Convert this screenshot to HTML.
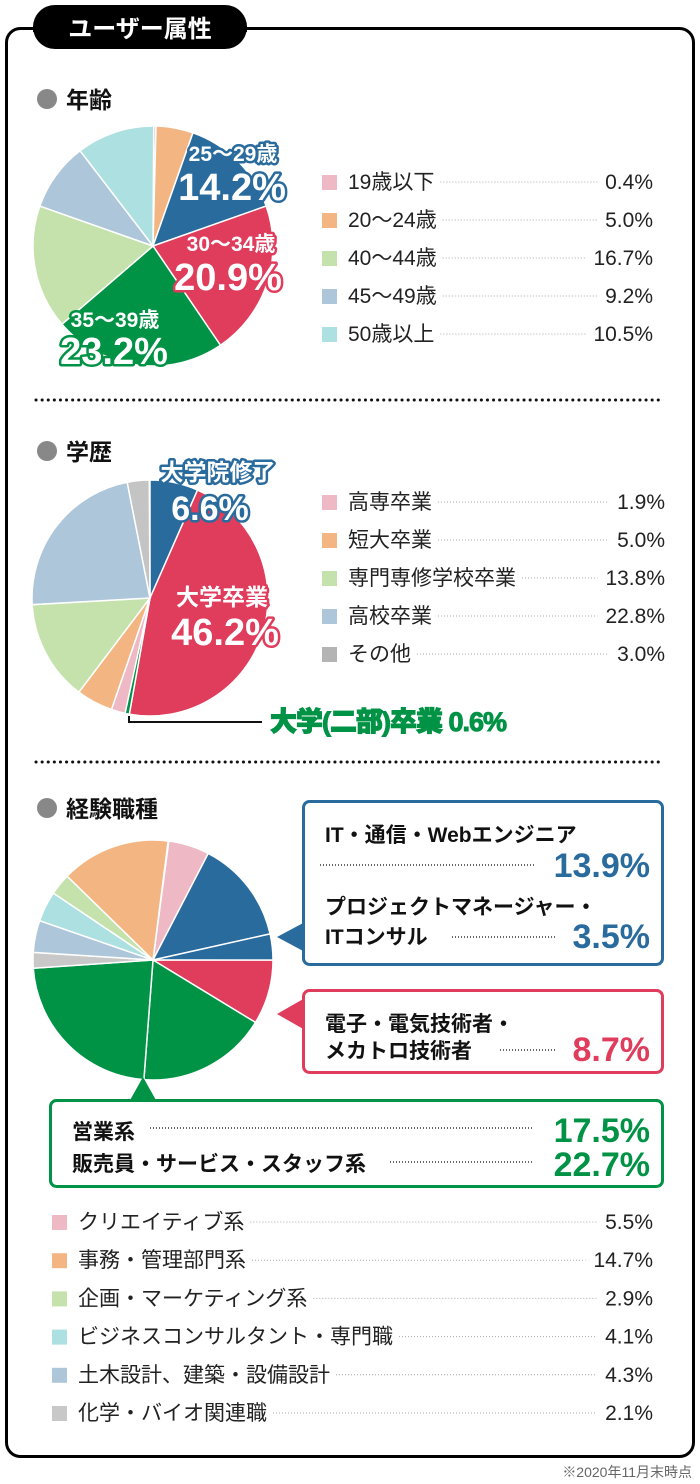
<!DOCTYPE html>
<html><head><meta charset="utf-8">
<style>
html,body{margin:0;padding:0;background:#fff;}
svg{display:block;font-family:"Liberation Sans","Noto Sans CJK JP",sans-serif;}
.b{font-weight:bold}
.lg{font-size:21px;fill:#222}
.pc{font-size:21px;fill:#222;text-anchor:end}
.lbl{fill:#fff;font-weight:bold;paint-order:stroke;stroke-width:5px;stroke-linejoin:round;text-anchor:middle}
.cb{font-size:21px;font-weight:bold;fill:#111}
.big{font-weight:bold;text-anchor:end;font-size:34px}
</style></head><body>
<svg id="s" width="700" height="1484" viewBox="0 0 700 1484" xmlns="http://www.w3.org/2000/svg">
<rect x="6.5" y="28.5" width="687" height="1428" rx="14" fill="#fff" stroke="#000" stroke-width="3"/>
<rect x="33" y="5" width="214" height="44" rx="22" fill="#000"/>
<rect x="33" y="26" width="214" height="6" fill="#000"/>
<text x="140" y="37" text-anchor="middle" fill="#fff" class="b" font-size="24">ユーザー属性</text>

<circle cx="47" cy="99" r="10" fill="#888"/>
<text x="66" y="108" class="b" font-size="23" fill="#111">年齢</text>
<circle cx="47" cy="451" r="10" fill="#888"/>
<text x="66" y="460" class="b" font-size="23" fill="#111">学歴</text>
<circle cx="47" cy="808" r="10" fill="#888"/>
<text x="66" y="817" class="b" font-size="23" fill="#111">経験職種</text>

<line x1="36" y1="400" x2="664" y2="400" stroke="#111" stroke-width="3" stroke-dasharray="0.1 6" stroke-linecap="round"/>
<line x1="36" y1="762" x2="664" y2="762" stroke="#111" stroke-width="3" stroke-dasharray="0.1 6" stroke-linecap="round"/>

<g id="p1"></g><g id="p2"></g><g id="p3"></g>
<g id="leg"></g>

<g stroke="#2a6b9e"><text class="lbl" x="233" y="161" font-size="21">25〜29歳</text><text class="lbl" x="232" y="200" font-size="38">14.2%</text></g>
<g stroke="#e03c5c"><text class="lbl" x="231" y="251" font-size="21">30〜34歳</text><text class="lbl" x="228" y="290" font-size="38">20.9%</text></g>
<g stroke="#009245"><text class="lbl" x="115" y="327" font-size="21">35〜39歳</text><text class="lbl" x="114" y="364" font-size="38">23.2%</text></g>

<g stroke="#2a6b9e"><text class="lbl" x="218" y="480" font-size="23">大学院修了</text><text class="lbl" x="210" y="520" font-size="34">6.6%</text></g>
<g stroke="#e03c5c"><text class="lbl" x="222" y="605" font-size="23">大学卒業</text><text class="lbl" x="225" y="645" font-size="38">46.2%</text></g>
<polyline points="129,716 129,722 262,722" fill="none" stroke="#111" stroke-width="2"/>
<text x="270" y="731" font-size="27" style="font-weight:900" fill="#009245" stroke="#009245" stroke-width="1" letter-spacing="-1">大学(二部)卒業 0.6%</text>

<rect x="303.5" y="801.5" width="359" height="163" rx="6" fill="#fff" stroke="#2a6b9e" stroke-width="3"/>
<polygon points="277,937 305,922 305,952" fill="#2a6b9e"/>
<text x="325" y="842" class="cb">IT・通信・Webエンジニア</text>
<line x1="320" y1="865" x2="535" y2="865" stroke="#333" stroke-width="1.5" stroke-dasharray="1 2"/>
<text x="650" y="877" class="big" fill="#2a6b9e">13.9%</text>
<text x="325" y="914" class="cb">プロジェクトマネージャー・</text>
<text x="325" y="944" class="cb">ITコンサル</text>
<line x1="452" y1="937" x2="556" y2="937" stroke="#333" stroke-width="1.5" stroke-dasharray="1 2"/>
<text x="650" y="948" class="big" fill="#2a6b9e">3.5%</text>

<rect x="303.5" y="990.5" width="359" height="82" rx="6" fill="#fff" stroke="#e03c5c" stroke-width="3"/>
<polygon points="277,1014 305,998 305,1030" fill="#e03c5c"/>
<text x="325" y="1031" class="cb">電子・電気技術者・</text>
<text x="325" y="1058" class="cb">メカトロ技術者</text>
<line x1="500" y1="1050" x2="556" y2="1050" stroke="#333" stroke-width="1.5" stroke-dasharray="1 2"/>
<text x="650" y="1061" class="big" fill="#e03c5c">8.7%</text>

<rect x="50.5" y="1100.5" width="612" height="86" rx="6" fill="#fff" stroke="#009245" stroke-width="3"/>
<polygon points="143,1077 129,1102 157,1102" fill="#009245"/>
<text x="72" y="1139" class="cb">営業系</text>
<line x1="150" y1="1128" x2="532" y2="1128" stroke="#333" stroke-width="1.5" stroke-dasharray="1 2"/>
<text x="650" y="1142" class="big" fill="#009245">17.5%</text>
<text x="72" y="1171" class="cb">販売員・サービス・スタッフ系</text>
<line x1="390" y1="1162" x2="532" y2="1162" stroke="#333" stroke-width="1.5" stroke-dasharray="1 2"/>
<text x="650" y="1176" class="big" fill="#009245">22.7%</text>

<text x="692" y="1477" text-anchor="end" font-size="14" fill="#666">※2020年11月末時点</text>
</svg>
<script>
var NS="http://www.w3.org/2000/svg";
function pie(id,cx,cy,r,start,data){
  var g=document.getElementById(id),a=start*Math.PI/180;
  data.forEach(function(d){
    var a2=a+d[0]/100*2*Math.PI;
    var x1=cx+r*Math.sin(a),y1=cy-r*Math.cos(a),x2=cx+r*Math.sin(a2),y2=cy-r*Math.cos(a2);
    var p=document.createElementNS(NS,"path");
    p.setAttribute("d","M"+cx+","+cy+"L"+x1+","+y1+"A"+r+","+r+" 0 "+((a2-a)>Math.PI?1:0)+" 1 "+x2+","+y2+"Z");
    p.setAttribute("fill",d[1]);p.setAttribute("stroke","#fff");p.setAttribute("stroke-width","1.5");
    g.appendChild(p);a=a2;
  });
}
var B="#2a6b9e",R="#e03c5c",G="#009245",LG="#c5e2ad",LB="#adc6da",CY="#ade0e0",O="#f3b682",PK="#eeb8c5",GR="#c8c8c8";
pie("p1",153,246,120,0,[[0.4,PK],[5,O],[14.2,B],[20.9,R],[23.2,G],[16.7,LG],[9.2,LB],[10.5,CY]]);
pie("p2",150,598,118,0,[[6.6,B],[46.2,R],[0.6,G],[1.9,PK],[5,O],[13.8,LG],[22.8,LB],[3,"#c4c4c4"]]);
pie("p3",153,960,120,7.6,[[5.5,PK],[13.9,B],[3.5,B],[8.7,R],[17.5,G],[22.7,G],[2.1,GR],[4.3,LB],[4.1,CY],[2.9,LG],[14.7,O]]);
var lg=document.getElementById("leg");
function leg(x,y,sq,col,txt,pct,rx){
  var r=document.createElementNS(NS,"rect");
  r.setAttribute("x",sq);r.setAttribute("y",y-14);r.setAttribute("width",15);r.setAttribute("height",15);r.setAttribute("fill",col);lg.appendChild(r);
  var t=document.createElementNS(NS,"text");t.setAttribute("class","lg");t.setAttribute("x",x);t.setAttribute("y",y);t.textContent=txt;lg.appendChild(t);
  var p=document.createElementNS(NS,"text");p.setAttribute("class","pc");p.setAttribute("x",rx);p.setAttribute("y",y);p.textContent=pct;lg.appendChild(p);
  var tw=t.getComputedTextLength(),pw=p.getComputedTextLength();
  var l=document.createElementNS(NS,"line");
  l.setAttribute("x1",x+tw+6);l.setAttribute("x2",rx-pw-8);l.setAttribute("y1",y-7);l.setAttribute("y2",y-7);
  l.setAttribute("stroke","#aaa");l.setAttribute("stroke-width","1");l.setAttribute("stroke-dasharray","1 2");lg.appendChild(l);
}
[["19歳以下","0.4%",PK],["20〜24歳","5.0%",O],["40〜44歳","16.7%",LG],["45〜49歳","9.2%",LB],["50歳以上","10.5%",CY]].forEach(function(d,i){leg(348,189+i*38,322,d[2],d[0],d[1],653);});
[["高専卒業","1.9%",PK],["短大卒業","5.0%",O],["専門専修学校卒業","13.8%",LG],["高校卒業","22.8%",LB],["その他","3.0%","#b4b4b4"]].forEach(function(d,i){leg(348,509+i*38,322,d[2],d[0],d[1],665);});
[["クリエイティブ系","5.5%",PK],["事務・管理部門系","14.7%",O],["企画・マーケティング系","2.9%",LG],["ビジネスコンサルタント・専門職","4.1%",CY],["土木設計、建築・設備設計","4.3%",LB],["化学・バイオ関連職","2.1%",GR]].forEach(function(d,i){leg(78,1229+i*38.2,52,d[2],d[0],d[1],653);});
</script>
</body></html>
